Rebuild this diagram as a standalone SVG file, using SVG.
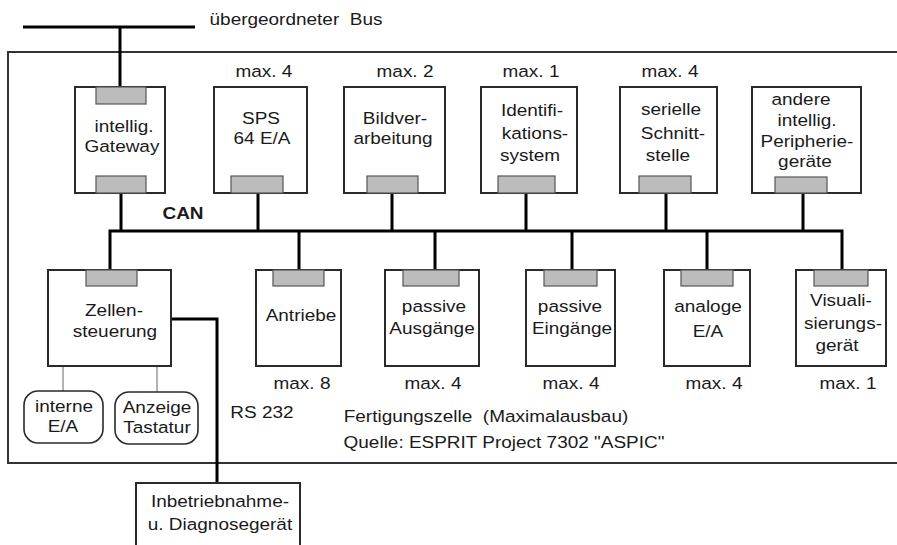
<svg xmlns="http://www.w3.org/2000/svg" width="897" height="545" viewBox="0 0 897 545">
  <style>
    text { font-family: "Liberation Sans", Arial, Helvetica, sans-serif; font-size: 16.5px; fill: #1a1a1a; text-anchor: middle; white-space: pre; }
    .t { transform-box: fill-box; transform-origin: center; transform: scaleX(1.15); }
    .bold { font-weight: bold; }
    .box { fill: #ffffff; stroke: #2a2a2a; stroke-width: 2; }
    .port { fill: #bcbcbc; stroke: #555555; stroke-width: 1.2; }
    .soft { fill: #ffffff; stroke: #2a2a2a; stroke-width: 1.6; }
    .bus { fill: none; stroke: #000000; stroke-width: 3; }
    .thin { fill: none; stroke: #666666; stroke-width: 1; }
    .frame { fill: none; stroke: #333333; stroke-width: 2; }
  </style>

  <!-- cell boundary -->
  <rect class="frame" x="8" y="52" width="900" height="411"/>

  <!-- connectors -->
  <g id="connectors">
    <!-- higher-level bus and gateway link -->
    <path class="bus" d="M23,27 H195 M120,27 V87"/>
    <!-- CAN bus -->
    <path class="bus" d="M110,270 V231 H842 V270"/>
    <path class="bus" d="M121,193 V231 M258,193 V231 M392,193 V231 M526,193 V231 M666,193 V231 M803,193 V231"/>
    <path class="bus" d="M299,231 V270 M435,231 V270 M572,231 V270 M707,231 V270"/>
    <!-- RS 232 -->
    <path class="bus" d="M171,319 H217 V483"/>
    <!-- local I/O links -->
    <path class="thin" d="M63,366 V391 M157,366 V392"/>
  </g>

  <!-- upper row -->
  <g id="gateway">
    <rect class="box" x="75" y="87" width="90" height="106"/>
    <rect class="port" x="96" y="87" width="50" height="17"/>
    <rect class="port" x="96" y="176" width="50" height="17"/>
    <text class="t" x="124" y="132">intellig.</text>
    <text class="t" x="122" y="152">Gateway</text>
  </g>
  <g id="sps">
    <text class="t" x="264" y="77">max. 4</text>
    <rect class="box" x="214" y="87" width="93" height="106"/>
    <rect class="port" x="231" y="176" width="52" height="17"/>
    <text class="t" x="261" y="124">SPS</text>
    <text class="t" x="262" y="144">64 E/A</text>
  </g>
  <g id="bildverarbeitung">
    <text class="t" x="405" y="77">max. 2</text>
    <rect class="box" x="344" y="87" width="101" height="106"/>
    <rect class="port" x="367" y="176" width="51" height="17"/>
    <text class="t" x="395" y="124">Bildver-</text>
    <text class="t" x="393" y="144">arbeitung</text>
  </g>
  <g id="identifikation">
    <text class="t" x="531" y="77">max. 1</text>
    <rect class="box" x="481" y="87" width="96" height="106"/>
    <rect class="port" x="498" y="176" width="57" height="17"/>
    <text class="t" x="532" y="116">Identifi-</text>
    <text class="t" x="535" y="139">kations-</text>
    <text class="t" x="530" y="161">system</text>
  </g>
  <g id="schnittstelle">
    <text class="t" x="670" y="77">max. 4</text>
    <rect class="box" x="620" y="87" width="97" height="106"/>
    <rect class="port" x="639" y="176" width="52" height="17"/>
    <text class="t" x="671" y="115">serielle</text>
    <text class="t" x="673" y="139">Schnitt-</text>
    <text class="t" x="668" y="161">stelle</text>
  </g>
  <g id="peripherie">
    <rect class="box" x="752" y="87" width="109" height="106"/>
    <rect class="port" x="775" y="177" width="52" height="16"/>
    <text class="t" x="801" y="105">andere</text>
    <text class="t" x="807" y="126">intellig.</text>
    <text class="t" x="807" y="147">Peripherie-</text>
    <text class="t" x="805" y="167">geräte</text>
  </g>

  <text class="t bold" x="183" y="219">CAN</text>
  <text class="t" x="296" y="25">übergeordneter  Bus</text>

  <!-- lower row -->
  <g id="zellensteuerung">
    <rect class="box" x="48" y="270" width="123" height="96"/>
    <rect class="port" x="86" y="270" width="51" height="16"/>
    <text class="t" x="114" y="316">Zellen-</text>
    <text class="t" x="115" y="337">steuerung</text>
  </g>
  <g id="interne-ea">
    <rect class="soft" x="24" y="391" width="79" height="52" rx="14"/>
    <text class="t" x="64" y="412">interne</text>
    <text class="t" x="63" y="432">E/A</text>
  </g>
  <g id="anzeige">
    <rect class="soft" x="115" y="392" width="83" height="52" rx="14"/>
    <text class="t" x="157" y="413">Anzeige</text>
    <text class="t" x="157" y="433">Tastatur</text>
  </g>
  <g id="antriebe">
    <rect class="box" x="256" y="270" width="85" height="96"/>
    <rect class="port" x="273" y="270" width="51" height="16"/>
    <text class="t" x="301" y="321">Antriebe</text>
    <text class="t" x="302" y="389">max. 8</text>
  </g>
  <g id="ausgaenge">
    <rect class="box" x="385" y="270" width="94" height="96"/>
    <rect class="port" x="403" y="270" width="56" height="16"/>
    <text class="t" x="434" y="312">passive</text>
    <text class="t" x="432" y="334">Ausgänge</text>
    <text class="t" x="433" y="389">max. 4</text>
  </g>
  <g id="eingaenge">
    <rect class="box" x="526" y="270" width="89" height="96"/>
    <rect class="port" x="544" y="270" width="53" height="16"/>
    <text class="t" x="570" y="312">passive</text>
    <text class="t" x="572" y="334">Eingänge</text>
    <text class="t" x="571" y="389">max. 4</text>
  </g>
  <g id="analoge-ea">
    <rect class="box" x="664" y="270" width="86" height="96"/>
    <rect class="port" x="681" y="270" width="52" height="16"/>
    <text class="t" x="708" y="312">analoge</text>
    <text class="t" x="708" y="337">E/A</text>
    <text class="t" x="714" y="389">max. 4</text>
  </g>
  <g id="visualisierung">
    <rect class="box" x="796" y="270" width="90" height="96"/>
    <rect class="port" x="814" y="270" width="54" height="16"/>
    <text class="t" x="841" y="306">Visuali-</text>
    <text class="t" x="843" y="329">sierungs-</text>
    <text class="t" x="837" y="351">gerät</text>
    <text class="t" x="848" y="389">max. 1</text>
  </g>

  <text class="t" x="262" y="418">RS 232</text>
  <text class="t" x="486" y="422">Fertigungszelle  (Maximalausbau)</text>
  <text class="t" x="504" y="448">Quelle: ESPRIT Project 7302 "ASPIC"</text>

  <g id="diagnosegeraet">
    <rect class="box" x="136" y="483" width="164" height="80"/>
    <text class="t" x="220" y="507">Inbetriebnahme-</text>
    <text class="t" x="220" y="530">u. Diagnosegerät</text>
  </g>
</svg>
